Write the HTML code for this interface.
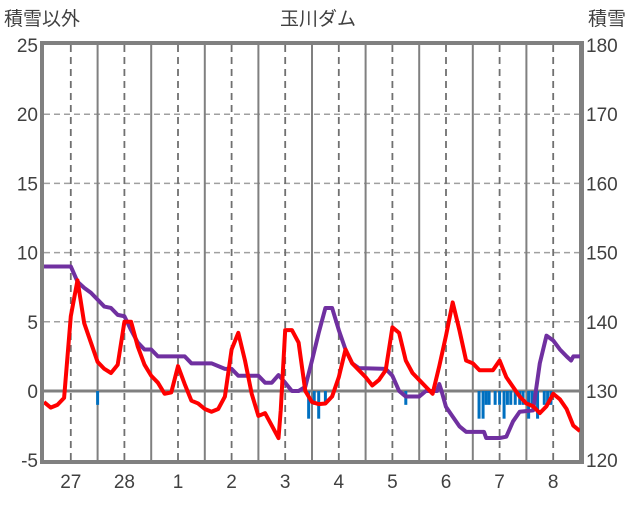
<!DOCTYPE html>
<html><head><meta charset="utf-8"><style>
body{margin:0;background:#fff;width:636px;height:501px;overflow:hidden;font-family:"Liberation Sans","Noto Sans CJK JP",sans-serif}
svg text{font-family:"Liberation Sans","Noto Sans CJK JP",sans-serif;fill:#404040}
</style></head><body>
<svg id="chart" width="636" height="501" viewBox="0 0 636 501" xmlns="http://www.w3.org/2000/svg">
<g id="grid"></g>
<g id="bars"></g>
<g id="lines"></g>
<g id="axes"></g>
<text x="318" y="25" text-anchor="middle" font-size="19">玉川ダム</text>
<text x="4" y="25" font-size="19">積雪以外</text>
<text x="588" y="25" font-size="19">積雪</text>
</svg>
<script>
const dayLabels=["27","28","1","2","3","4","5","6","7","8"];
const leftTicks=[-5,0,5,10,15,20,25];
const rightTicks=[120,130,140,150,160,170,180];
const tempHours=[0,3,6,9,12,15,18,21,24,27,30,33,36,39,42,45,48,51,54,57,60,63,66,69,72,75,78,81,84,87,90,93,96,99,102,105,106,108,111,114,117,120,123,126,129,132,135,138,141,144,147,150,153,156,159,162,165,168,171,174,177,180,183,186,189,192,195,198,201,204,207,210,213,216,219,222,225,228,231,234,237,240];
const tempValues=[-0.8,-1.2,-1.0,-0.5,5.4,8.0,4.9,3.5,2.1,1.6,1.3,1.9,5.0,5.0,3.2,1.9,1.1,0.6,-0.2,-0.1,1.8,0.5,-0.7,-0.9,-1.3,-1.5,-1.3,-0.4,3.0,4.2,2.2,-0.2,-1.8,-1.6,-2.5,-3.4,-1.4,4.4,4.4,3.5,0.0,-0.8,-0.95,-0.9,-0.4,1.0,3.0,2.0,1.5,1.0,0.4,0.8,1.5,4.6,4.2,2.2,1.3,0.8,0.3,-0.2,1.8,4.0,6.4,4.4,2.2,2.0,1.5,1.5,1.5,2.2,1.0,0.3,-0.4,-0.9,-1.1,-1.6,-1.1,-0.2,-0.6,-1.3,-2.5,-2.9];
const snowHours=[0,12,15,18,21,24,27,30,33,36,39,42,45,48,51,63,66,75,81,84,87,96,99,102,105,108,111,114,117,120,123,126,129,132,135,138,141,153,156,159,162,168,171,176,177,178,180,183,186,189,197,198,204,207,210,213,219,222,225,228,231,234,236,237,240];
const snowValues=[148,148,145.8,144.9,144.2,143.2,142.2,142,141,140.8,138.8,137,136,136,135,135,134,134,133.2,133.2,132.2,132.2,131.2,131.2,132.3,131.2,130,130,130.6,134.4,138.4,142,142,138.8,136,134,133.3,133.2,132.2,130,129.2,129.2,130,130,131,130,127.7,126.3,124.9,124.1,124.1,123.2,123.2,123.4,125.6,127,127.2,134,138,137.3,136,135,134.4,135,135];
const precipHours=[24,118.5,121,123,126,162,194.8,196.6,198,199.3,202,204,206,207.5,209,211,213,214.5,217,218.5,221,224,225.5,227];
const precipValues=[1,2,1,2,1,1,2,2,1,1,1,1,2,1,1,1,1,1,2,1,2,1,1,1];
const L=44,R=580,T=45,B=460,H0=0,H1=240;
const x=h=>L+(h-H0)/(H1-H0)*(R-L);
const yL=v=>391-v*13.84;
const yR=v=>yL((v-130)/2);
const NS="http://www.w3.org/2000/svg";
function mk(t,p,a){const e=document.createElementNS(NS,t);for(const k in a)e.setAttribute(k,a[k]);p.appendChild(e);return e;}
const grid=document.getElementById('grid'),axes=document.getElementById('axes'),bars=document.getElementById('bars'),lines=document.getElementById('lines');
leftTicks.forEach(v=>{if(v!==-5&&v!==0&&v!==25){const l=mk('line',grid,{x1:L,x2:R,y1:yL(v),y2:yL(v),stroke:'#a0a0a0','stroke-width':1.5,'stroke-dasharray':'6,4'});

}
const t=mk('text',axes,{x:38,y:yL(v)+7,'text-anchor':'end','font-size':19});t.textContent=v;

});
rightTicks.forEach(v=>{const t=mk('text',axes,{x:586,y:yR(v)+7,'font-size':19});t.textContent=v;

});
dayLabels.forEach((d,i)=>{const hm=12+24*i;const l=mk('line',grid,{x1:x(hm),x2:x(hm),y1:T,y2:B,stroke:'#707070','stroke-width':1.8,'stroke-dasharray':'7,5'});


const n=mk('line',grid,{x1:x(24*(i+1)),x2:x(24*(i+1)),y1:T,y2:B,stroke:'#808080','stroke-width':2});


const t=mk('text',axes,{x:x(hm),y:488,'text-anchor':'middle','font-size':19});t.textContent=d;

});
const z=mk('line',grid,{x1:L,x2:R,y1:yL(0),y2:yL(0),stroke:'#808080','stroke-width':3});


precipHours.forEach((h,i)=>{const r=mk('rect',bars,{x:x(h)-1.5,y:yL(0),width:3,height:yL(-precipValues[i])-yL(0),fill:'#0070c0'});

});
const snow=mk('polyline',lines,{points:snowHours.map((h,i)=>x(h)+','+yR(snowValues[i])).join(' '),fill:'none',stroke:'#7030a0','stroke-width':4,'stroke-linejoin':'round'});


const temp=mk('polyline',lines,{points:tempHours.map((h,i)=>x(h)+','+yL(tempValues[i])).join(' '),fill:'none',stroke:'#ff0000','stroke-width':4,'stroke-linejoin':'round'});


const fr=mk('rect',axes,{x:L-2,y:T-2,width:R-L+4,height:B-T+4,fill:'none',stroke:'#808080','stroke-width':4});


</script>
</body></html>
